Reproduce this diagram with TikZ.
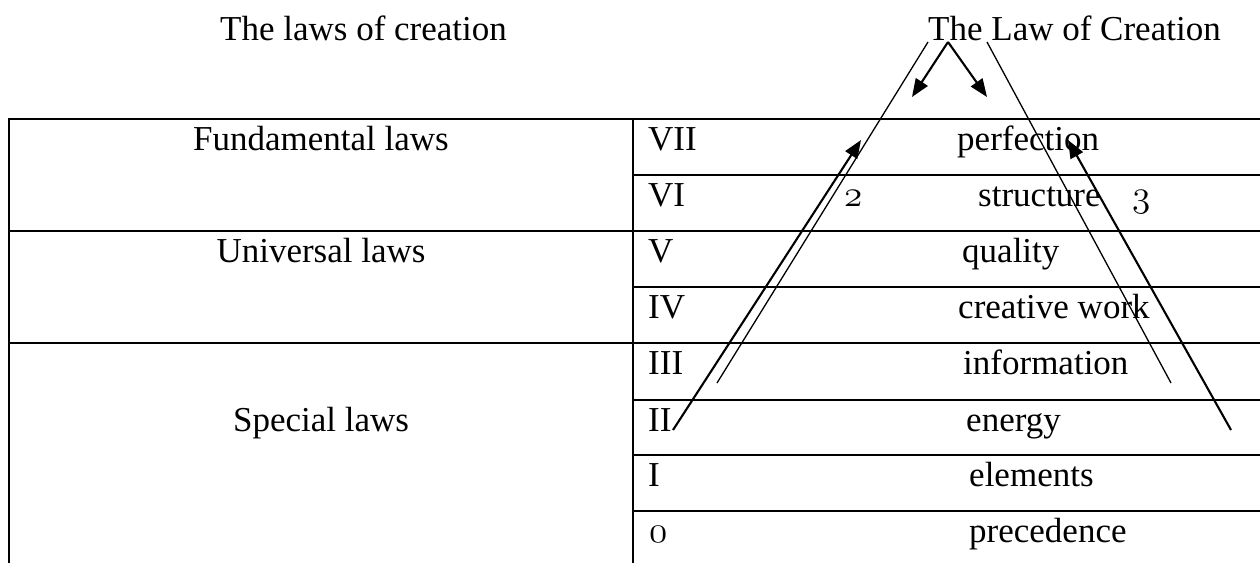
\documentclass[tikz,border=0pt]{standalone}
\usepackage{fontspec}
\usepackage{graphicx}
\setmainfont{Liberation Serif}
\usetikzlibrary{arrows.meta}
\newcommand{\osfdig}[1]{\scalebox{3.1}{\fontencoding{OML}\fontfamily{cmm}\fontseries{m}\fontshape{it}\fontsize{12}{14}\selectfont #1}}
\tikzset{
  txt/.style={font=\fontsize{35}{42}\selectfont, inner sep=0pt, anchor=base west},
  ctxt/.style={font=\fontsize{35}{42}\selectfont, inner sep=0pt, anchor=base},
  grid/.style={line width=1.9pt},
  guide/.style={line width=1.3pt},
  arr/.style={line width=2.1pt, -{Triangle[length=18pt,width=14pt]}},
}
\begin{document}
\begin{tikzpicture}[x=1pt,y=-1pt]
\useasboundingbox (0,0) rectangle (1260,562);
% titles
\node[txt] (tleft) at (220,40) {The laws of creation};
\node[txt] (tright) at (928,40) {The Law of Creation};
% table
\draw[grid] (9,119) -- (1262,119);
\draw[grid] (633,175) -- (1262,175);
\draw[grid] (9,231) -- (1262,231);
\draw[grid] (633,287) -- (1262,287);
\draw[grid] (9,343) -- (1262,343);
\draw[grid] (633,400) -- (1262,400);
\draw[grid] (633,455) -- (1262,455);
\draw[grid] (633,511) -- (1262,511);
\draw[grid] (9,118) -- (9,564);
\draw[grid] (633,118) -- (633,564);
% column 1
\node[ctxt] (fund) at (321,150) {Fundamental laws};
\node[ctxt] (univ) at (321,262) {Universal laws};
\node[ctxt] (spec) at (321,431) {Special laws};
% roman numerals
\node[txt] (r7) at (648,150) {VII};
\node[txt] (r6) at (648,206) {VI};
\node[txt] (r5) at (648,262) {V};
\node[txt] (r4) at (648,318) {IV};
\node[txt] (r3) at (648,374) {III};
\node[txt] (r2) at (648,431) {II};
\node[txt] (r1) at (648,486) {I};
\node[txt] (r0) at (649,542) {\osfdig{0}};
% names
\node[txt] (perf) at (957,150) {perfection};
\node[txt] (struc) at (978,206) {structure};
\node[txt] (qual) at (962,262) {quality};
\node[txt] (crea) at (958,318) {creative work};
\node[txt] (info) at (963,374) {information};
\node[txt] (ener) at (966,431) {energy};
\node[txt] (elem) at (969,486) {elements};
\node[txt] (prec) at (969,542) {precedence};
% labels
\node[txt] (lab2) at (844,206) {\osfdig{2}};
\node[txt] (lab3) at (1132,206) {\osfdig{3}};
% connector points
\coordinate (apex) at (948,42);
\coordinate (tipL) at (912,97);
\coordinate (tipR) at (987,97);
\coordinate (gL0) at (928,42);
\coordinate (gL1) at (717,383);
\coordinate (gR0) at (987,42);
\coordinate (gR1) at (1171,383);
\coordinate (aL0) at (673,430);
\coordinate (aL1) at (861,140);
\coordinate (aR0) at (1231,430);
\coordinate (aR1) at (1068,140);
\draw[arr] (apex) -- (tipL);
\draw[arr] (apex) -- (tipR);
\draw[guide] (gL0) -- (gL1);
\draw[guide] (gR0) -- (gR1);
\draw[arr] (aL0) -- (aL1);
\draw[arr] (aR0) -- (aR1);
\end{tikzpicture}
\end{document}
